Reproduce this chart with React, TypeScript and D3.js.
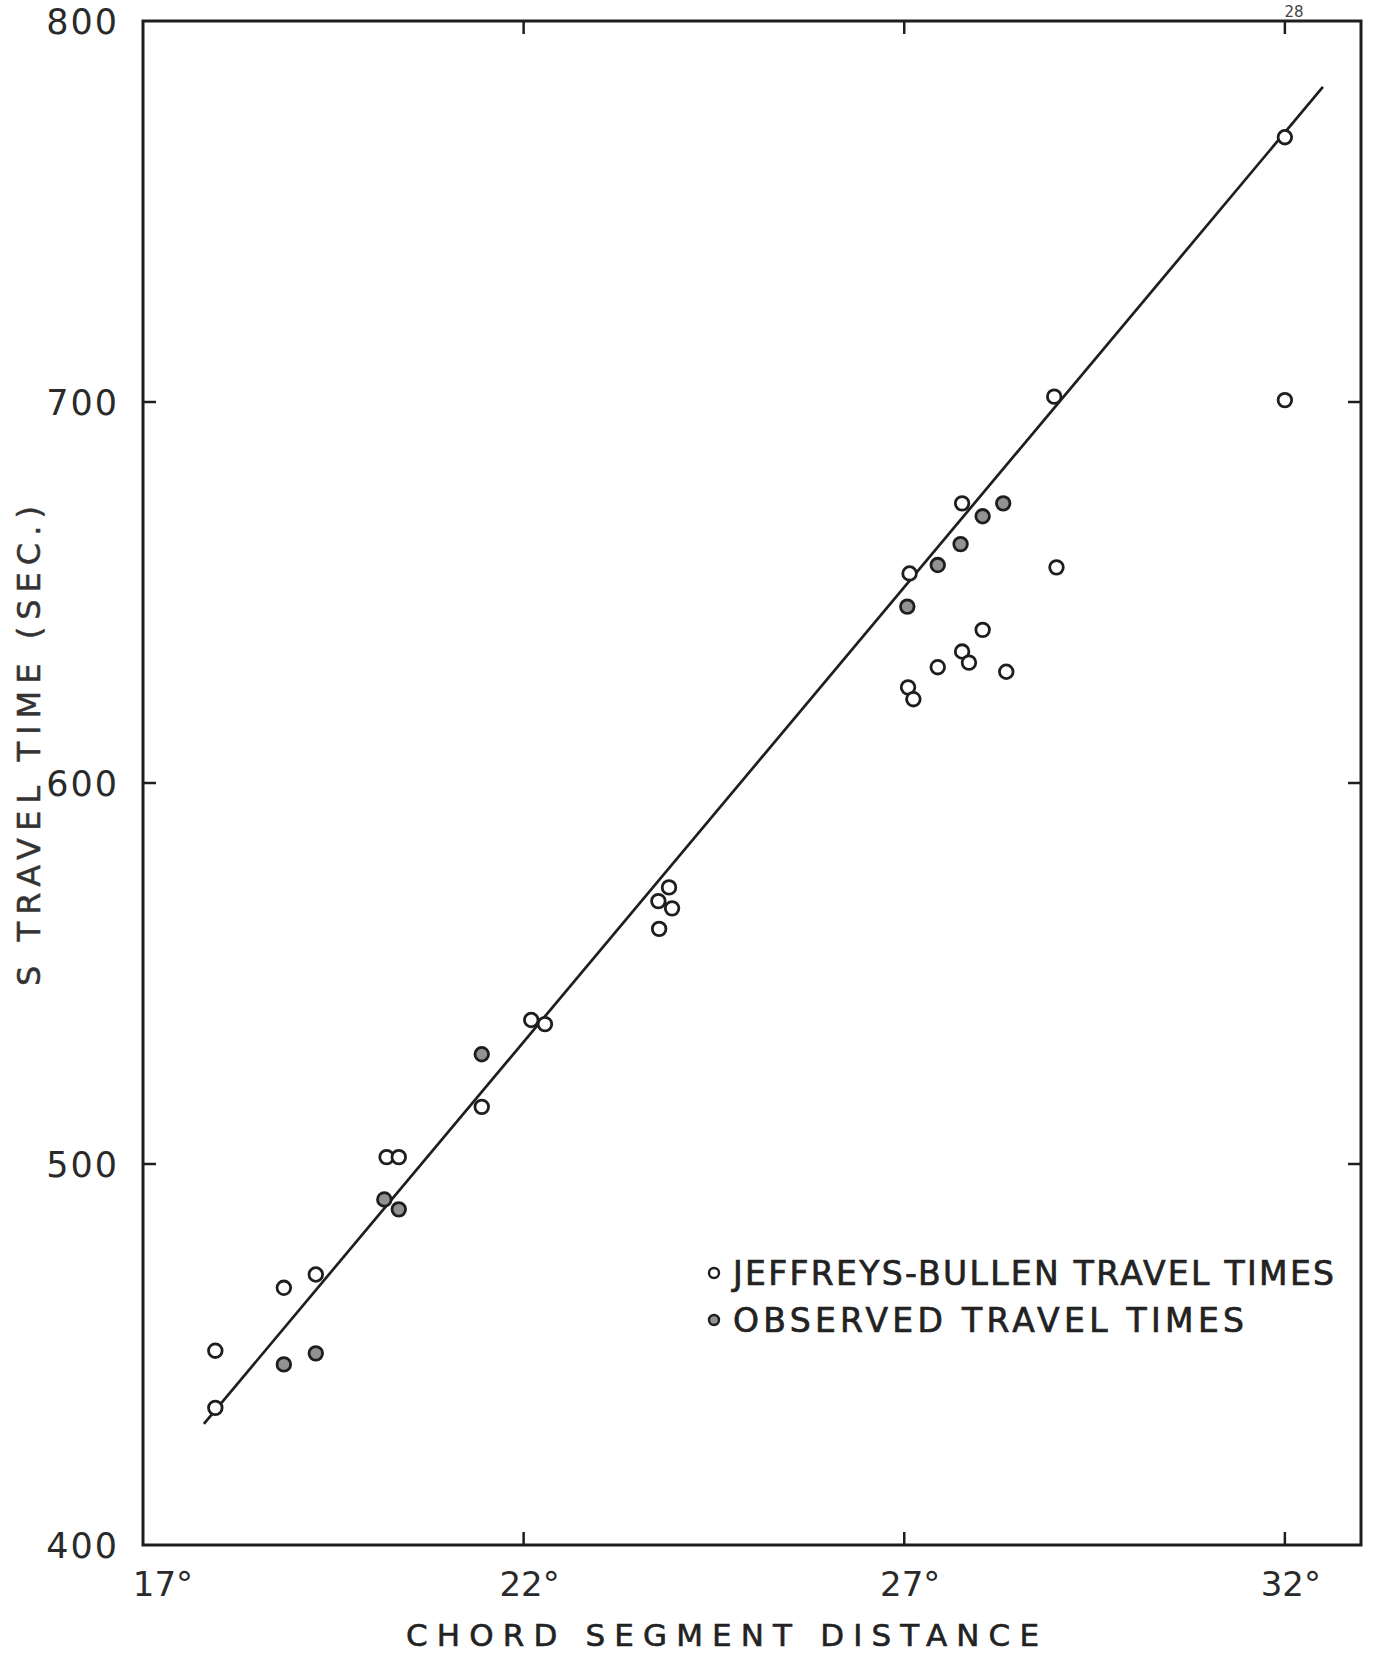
import React from "react";
import * as d3 from "d3";

// chord segment distance (deg) vs travel time (sec)
const xTicks = [17, 22, 27, 32];
const yTicks = [400, 500, 600, 700, 800];
const xTickLabels = ["17°", "22°", "27°", "32°"];

// Jeffreys-Bullen travel times (open circles)
const jbDistance = [
  17.95, 17.95, 18.85, 19.27, 20.2, 20.36, 21.45, 22.1, 22.28, 23.91, 23.77,
  23.95, 23.78, 27.07, 27.76, 29.0, 28.97, 28.03, 27.76, 27.85, 27.44, 28.34,
  27.05, 27.12, 32.0, 32.0,
];
const jbTime = [
  436, 451, 467.5, 471, 501.8, 501.8, 515, 537.8, 536.7, 572.6, 569, 567.1,
  561.7, 655, 673.4, 656.6, 701.4, 640.2, 634.5, 631.6, 630.4, 629.2, 625.1,
  622, 769.5, 700.5,
];

// observed travel times (circles with shaded centre)
const obsDistance = [18.85, 19.27, 20.17, 20.36, 21.45, 27.04, 27.44, 27.74, 28.03, 28.3];
const obsTime = [447.4, 450.3, 490.7, 488.1, 528.8, 646.3, 657.2, 662.7, 670, 673.4];

// straight line drawn through the points
const fitDistance = [17.8, 32.5];
const fitTime = [431.8, 782.7];

const W = 1374;
const H = 1653;
const left = 143;
const right = 1361;
const top = 21;
const bottom = 1545;
const font = "'DejaVu Sans', sans-serif";
const ink = "#1e1e1e";

export default function App() {
  const x = d3.scaleLinear().domain([17, 33]).range([left, right]);
  const y = d3.scaleLinear().domain([400, 800]).range([bottom, top]);

  const line = d3
    .line<number>()
    .x((d) => x(d))
    .y((d, i) => y(fitTime[i]));

  const tickLen = 13;

  return (
    <svg
      width={W}
      height={H}
      style={{ position: "absolute", left: 0, top: 0, background: "#fff" }}
    >
      <rect x={0} y={0} width={W} height={H} fill="#fff" />
      {/* page number */}
      <text x={1294} y={17} fontFamily={font} fontSize={15} textAnchor="middle" fill="#444">
        28
      </text>

      {/* frame */}
      <rect
        x={left}
        y={top}
        width={right - left}
        height={bottom - top}
        fill="none"
        stroke={ink}
        strokeWidth={3}
      />

      {/* inner ticks */}
      {xTicks.slice(1).map((t) => (
        <g key={"xt" + t} stroke={ink} strokeWidth={2.5}>
          <line x1={x(t)} x2={x(t)} y1={top} y2={top + tickLen} />
          <line x1={x(t)} x2={x(t)} y1={bottom} y2={bottom - tickLen} />
        </g>
      ))}
      {yTicks.slice(1, -1).map((t) => (
        <g key={"yt" + t} stroke={ink} strokeWidth={2.5}>
          <line x1={left} x2={left + tickLen} y1={y(t)} y2={y(t)} />
          <line x1={right} x2={right - tickLen} y1={y(t)} y2={y(t)} />
        </g>
      ))}

      {/* tick labels */}
      {yTicks.map((t) => (
        <text
          key={"yl" + t}
          x={119}
          y={y(t)}
          dy="0.36em"
          textAnchor="end"
          fontFamily={font}
          fontSize={35}
          letterSpacing={2}
          fill="#2a2a2a"
        >
          {t}
        </text>
      ))}
      {xTicks.map((t, i) => (
        <text
          key={"xl" + t}
          x={x(t) + (i === 0 ? 20 : 6)}
          y={1596}
          textAnchor="middle"
          fontFamily={font}
          fontSize={34}
          fill="#2a2a2a"
        >
          {xTickLabels[i]}
        </text>
      ))}

      {/* axis titles */}
      <text
        x={406}
        y={1646}
        textLength={633}
        lengthAdjust="spacing"
        fontFamily={font}
        fontSize={31}
        stroke="#222"
        strokeWidth={0.6}
        fill="#222"
      >
        CHORD SEGMENT DISTANCE
      </text>
      <text
        transform={`translate(40, 986) rotate(-90)`}
        textLength={480}
        lengthAdjust="spacing"
        fontFamily={font}
        fontSize={32}
        stroke="#333"
        strokeWidth={0.5}
        fill="#333"
      >
        S TRAVEL TIME (SEC.)
      </text>

      {/* fitted line */}
      <path d={line(fitDistance) || ""} fill="none" stroke={ink} strokeWidth={2.7} />

      {/* points */}
      {jbDistance.map((d, i) => (
        <circle
          key={"jb" + i}
          cx={x(d)}
          cy={y(jbTime[i])}
          r={6.8}
          fill="#fff"
          stroke={ink}
          strokeWidth={2.8}
        />
      ))}
      {obsDistance.map((d, i) => (
        <circle
          key={"ob" + i}
          cx={x(d)}
          cy={y(obsTime[i])}
          r={6.8}
          fill="#929292"
          stroke={ink}
          strokeWidth={2.8}
        />
      ))}

      {/* legend */}
      <circle cx={714} cy={1273} r={5} fill="#fff" stroke={ink} strokeWidth={2.4} />
      <text
        x={733}
        y={1273}
        dy="0.36em"
        textLength={601}
        lengthAdjust="spacing"
        fontFamily={font}
        fontSize={33}
        stroke="#222"
        strokeWidth={0.7}
        fill="#222"
      >
        JEFFREYS-BULLEN TRAVEL TIMES
      </text>
      <circle cx={714} cy={1320} r={5} fill="#929292" stroke={ink} strokeWidth={2.4} />
      <text
        x={733}
        y={1320}
        dy="0.36em"
        textLength={511}
        lengthAdjust="spacing"
        fontFamily={font}
        fontSize={33}
        stroke="#222"
        strokeWidth={0.7}
        fill="#222"
      >
        OBSERVED TRAVEL TIMES
      </text>
    </svg>
  );
}
